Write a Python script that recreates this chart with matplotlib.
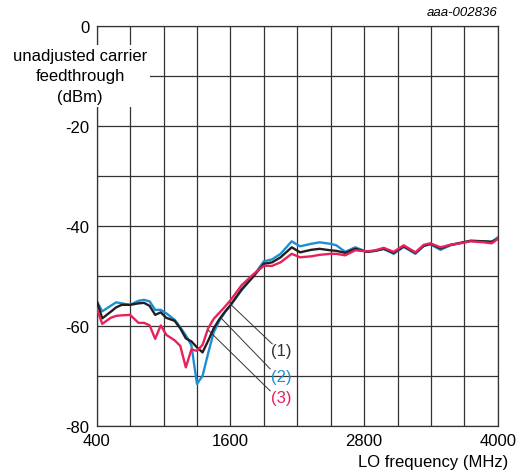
import matplotlib.pyplot as plt
import matplotlib as mpl

mpl.rcParams['font.family'] = ['Liberation Sans', 'DejaVu Sans']
mpl.rcParams['axes.unicode_minus'] = False

# LO frequency (MHz)
freq = [400, 450, 525, 575, 625, 700, 775, 825, 875, 925, 975, 1025, 1100, 1150,
        1200, 1250, 1300, 1350, 1400, 1450, 1500, 1550, 1600, 1700, 1800, 1900,
        1975, 2050, 2150, 2225, 2325, 2400, 2500, 2550, 2630, 2720, 2825, 2900,
        2975, 3065, 3155, 3260, 3335, 3395, 3485, 3575, 3690, 3755, 3875, 3945, 4000]

# unadjusted carrier feedthrough (dBm)
curve1 = [-55.0, -58.5, -57.2, -56.3, -55.8, -55.8, -55.5, -55.4, -56.0, -57.8, -57.3,
          -58.4, -59.0, -60.5, -62.5, -63.1, -64.3, -65.3, -63.0, -60.5, -58.7, -57.2,
          -55.9, -52.7, -50.3, -47.6, -47.3, -46.3, -44.3, -45.3, -44.8, -44.6, -44.9,
          -45.0, -45.4, -44.6, -45.2, -45.0, -44.6, -45.4, -44.1, -45.4, -44.0, -43.6,
          -44.5, -43.8, -43.3, -43.0, -43.1, -43.2, -42.6]
curve2 = [-55.0, -57.1, -56.0, -55.3, -55.5, -55.8, -55.0, -54.8, -55.1, -56.8, -56.8,
          -57.5, -58.8, -60.3, -61.9, -63.9, -71.6, -70.0, -65.5, -61.3, -59.0, -57.3,
          -55.9, -52.9, -50.2, -47.1, -46.7, -45.6, -43.1, -44.1, -43.6, -43.3, -43.6,
          -43.9, -45.2, -44.3, -45.2, -45.0, -44.6, -45.6, -44.2, -45.6, -44.0, -43.7,
          -44.8, -43.9, -43.3, -43.0, -43.1, -43.2, -42.3]
curve3 = [-56.5, -59.6, -58.4, -58.0, -57.9, -57.8, -59.4, -59.4, -59.9, -62.6, -59.9,
          -61.8, -62.9, -64.0, -68.3, -64.7, -65.0, -63.8, -60.5, -58.6, -57.4, -56.2,
          -54.9, -51.9, -49.8, -48.0, -48.0, -47.3, -45.6, -46.3, -46.1, -45.8, -45.6,
          -45.6, -45.9, -44.9, -45.1, -44.9, -44.4, -45.2, -43.9, -45.3, -43.8, -43.5,
          -44.3, -43.8, -43.4, -43.1, -43.3, -43.5, -42.6]

xticks = [400, 1600, 2800, 4000]
yticks = [0, -20, -40, -60, -80]

fig = plt.figure(figsize=(5.17, 4.77), dpi=100)
ax = fig.add_axes([0.187, 0.105, 0.776, 0.839])

ax.set_xlim(400, 4000)
ax.set_ylim(-80, 0)
ax.set_xticks(xticks)
ax.set_xticks(range(400, 4001, 300), minor=True)
ax.set_yticks(yticks)
ax.set_yticks(range(-80, 1, 10), minor=True)
ax.set_yticklabels([str(v) for v in yticks])
ax.tick_params(which='both', length=0, labelsize=12, pad=5)
ax.grid(which='both', color='#333333', linewidth=0.9)
for s in ax.spines.values():
    s.set_color('#333333')
    s.set_linewidth(0.9)

ax.plot(freq, curve2, color='#1b8fd2', linewidth=1.7, zorder=3)
ax.plot(freq, curve1, color='#231f20', linewidth=1.7, zorder=4)
ax.plot(freq, curve3, color='#e8215a', linewidth=1.7, zorder=5)

# leader lines and curve labels
leaders = [((1597, -55.6), (1975, -63.6), -65.0, '(1)', '#333333'),
           ((1523, -58.6), (1957, -68.6), -70.2, '(2)', '#1b8fd2'),
           ((1403, -60.9), (1957, -73.0), -74.4, '(3)', '#e8215a')]
for (x0, y0), (x1, y1), ty, lab, col in leaders:
    ax.plot([x0, x1], [y0, y1], color='#333333', linewidth=0.7, zorder=6)
    ax.text(2053, ty, lab, color=col, fontsize=12, ha='center', va='center', zorder=7)

fig.text(0.155, 0.839, 'unadjusted carrier\nfeedthrough\n(dBm)', ha='center', va='center',
         fontsize=12, linespacing=1.45, zorder=10,
         bbox=dict(facecolor='white', edgecolor='none', pad=2))
fig.text(0.983, 0.03, 'LO frequency (MHz)', ha='right', va='center', fontsize=12)
fig.text(0.963, 0.972, 'aaa-002836', ha='right', va='center', fontsize=9.5, style='italic')

fig.savefig('out.png', dpi=100)
